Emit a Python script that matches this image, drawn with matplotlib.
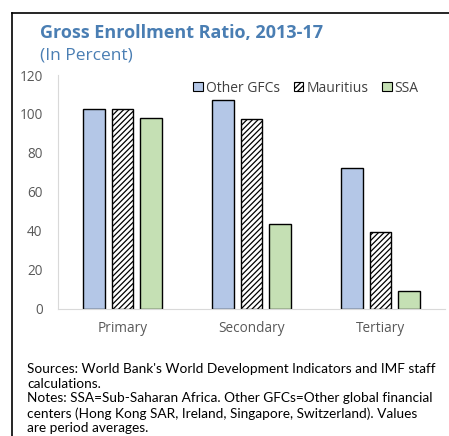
import numpy as np
import matplotlib.pyplot as plt
from matplotlib.lines import Line2D
from matplotlib.patches import Patch

plt.rcParams['font.family'] = ['Open Sans', 'DejaVu Sans']
plt.rcParams['hatch.linewidth'] = 0.9

# data
levels = ["Primary", "Secondary", "Tertiary"]
series = ["Other GFCs", "Mauritius", "SSA"]
other_gfcs = [102.5, 107.0, 72.0]
mauritius = [102.5, 97.5, 39.3]
ssa = [97.8, 43.3, 9.3]

colors = ["#b4c7e7", "white", "#c5e0b4"]
hatches = [None, "//////", None]

fig = plt.figure(figsize=(4.49, 4.36), dpi=100)
ax = fig.add_axes([58 / 449, 1 - 308.7 / 436, 387 / 449, 233.7 / 436])

x = np.arange(len(levels))
width = 0.165
offsets = [-0.222, 0, 0.222]
for vals, off, c, h in zip([other_gfcs, mauritius, ssa], offsets, colors, hatches):
    ax.bar(x + off, vals, width, color=c, edgecolor="black", linewidth=1.0, hatch=h)

ax.set_xlim(-0.5, 2.5)
ax.set_ylim(0, 120)
ax.set_yticks(range(0, 121, 20))
ax.set_xticks(x)
ax.set_xticklabels(levels)
ax.tick_params(length=0, labelsize=9.8, labelcolor="#595959")
ax.tick_params(axis="y", pad=11)
ax.tick_params(axis="x", pad=9)
for s in ["top", "right"]:
    ax.spines[s].set_visible(False)
ax.spines["left"].set_color("#d9d9d9")
ax.spines["bottom"].set_color("#d9d9d9")

handles = [Patch(facecolor=c, edgecolor="black", hatch=h, linewidth=0.8) for c, h in zip(colors, hatches)]
fig.legend(handles, series, loc="center", bbox_to_anchor=(306 / 449, 1 - 88 / 436), ncol=3,
           frameon=False, fontsize=10, handlelength=0.7, handleheight=0.7,
           handletextpad=0.2, columnspacing=1.0, labelcolor="#404040")

title_color = "#4a7eb3"
fig.text(40 / 449, 1 - 33 / 436, "Gross Enrollment Ratio, 2013-17", fontsize=13,
         fontweight="bold", color=title_color, va="center")
fig.text(40 / 449, 1 - 56 / 436, "(In Percent)", fontsize=12.5, color=title_color, va="center")

note = ("Sources: World Bank's World Development Indicators and IMF staff\n"
        "calculations.\n"
        "Notes: SSA=Sub-Saharan Africa. Other GFCs=Other global financial\n"
        "centers (Hong Kong SAR, Ireland, Singapore, Switzerland). Values\n"
        "are period averages.")
fig.text(27 / 449, 1 - 363 / 436, note, fontsize=9.8, color="black", va="top", linespacing=1.27,
         family=["Lato", "DejaVu Sans"])

# frame lines
fig.add_artist(Line2D([11.5 / 449, 11.5 / 449], [0, 1 - 13 / 436], color="black", lw=1.2))
fig.add_artist(Line2D([11.5 / 449, 1], [1 - 13 / 436, 1 - 13 / 436], color="black", lw=1.2))

fig.savefig("out.png", dpi=100)
